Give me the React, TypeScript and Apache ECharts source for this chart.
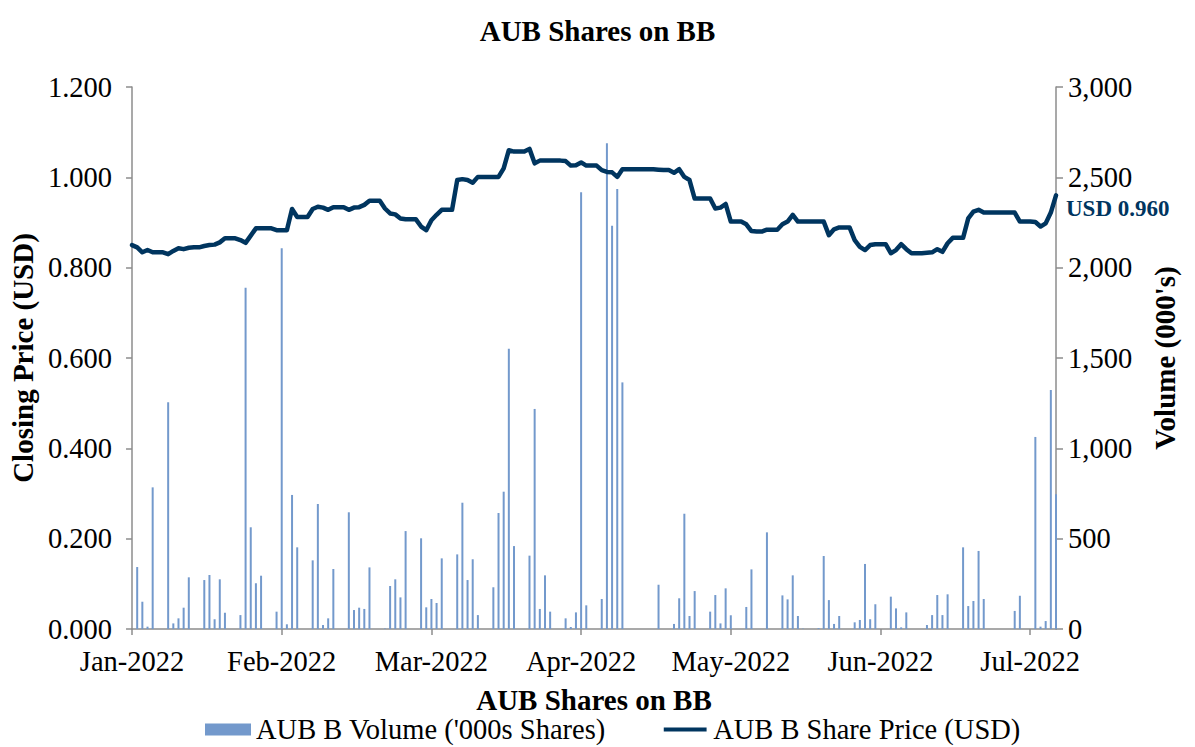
import React, { useEffect, useRef } from "react";
import * as echarts from "echarts";

// Tick labels shown every LABEL_STEP day-slots along the x axis
const TICK_LABELS = ["Jan-2022", "Feb-2022", "Mar-2022", "Apr-2022", "May-2022", "Jun-2022", "Jul-2022"];
const LABEL_STEP = 29;

// Daily volume ('000s shares), one value per day slot (weekends = 0)
const VOLUME = [
  0, 343, 151, 13, 784, 0, 0,
  1255, 31, 59, 118, 286, 0, 0,
  271, 299, 54, 275, 90, 0, 0,
  77, 1889, 563, 253, 295, 0, 0,
  96, 2107, 26, 742, 452, 0, 0,
  380, 692, 22, 59, 332, 0, 0,
  646, 105, 118, 111, 341, 0, 0,
  3, 238, 275, 175, 542, 0, 0,
  502, 120, 166, 144, 391, 0, 0,
  413, 699, 271, 386, 77, 0, 0,
  231, 642, 760, 1551, 459, 0, 0,
  406, 1218, 111, 297, 96, 0, 0,
  59, 11, 92, 2417, 131, 0, 0,
  166, 2688, 2232, 2435, 1365, 0, 0,
  0, 0, 0, 0, 245, 0, 0,
  28, 170, 638, 72, 210, 0, 0,
  96, 188, 31, 225, 76, 0, 0,
  122, 330, 0, 0, 535, 0, 0,
  186, 164, 297, 72, 2, 0, 0,
  5, 404, 160, 28, 72, 0, 0,
  37, 50, 360, 54, 137, 0, 0,
  179, 114, 9, 92, 0, 0, 0,
  22, 77, 188, 77, 192, 0, 0,
  452, 127, 155, 432, 166, 0, 0,
  0, 0, 0, 100, 184, 0, 0,
  1063, 13, 44, 1323, 746,
];

// Closing price (USD), one value per day slot
const PRICE = [
  0.850, 0.845, 0.834, 0.839, 0.834, 0.834, 0.834,
  0.830, 0.837, 0.843, 0.841, 0.844, 0.845, 0.845,
  0.848, 0.850, 0.851, 0.856, 0.865, 0.865, 0.865,
  0.861, 0.855, 0.871, 0.887, 0.887, 0.887, 0.887,
  0.883, 0.883, 0.883, 0.930, 0.912, 0.912, 0.912,
  0.930, 0.935, 0.933, 0.928, 0.934, 0.934, 0.934,
  0.928, 0.933, 0.934, 0.939, 0.948, 0.948, 0.948,
  0.931, 0.920, 0.918, 0.909, 0.907, 0.907, 0.907,
  0.891, 0.883, 0.905, 0.917, 0.928, 0.928, 0.928,
  0.994, 0.996, 0.994, 0.988, 1.001, 1.001, 1.001,
  1.001, 1.001, 1.020, 1.060, 1.057, 1.057, 1.057,
  1.063, 1.031, 1.037, 1.037, 1.037, 1.037, 1.037,
  1.036, 1.026, 1.027, 1.033, 1.026, 1.026, 1.026,
  1.016, 1.012, 1.011, 1.001, 1.018, 1.018, 1.018,
  1.018, 1.018, 1.018, 1.018, 1.017, 1.016, 1.016,
  1.010, 1.018, 1.001, 0.994, 0.953, 0.953, 0.953,
  0.953, 0.931, 0.933, 0.941, 0.902, 0.902, 0.902,
  0.896, 0.881, 0.880, 0.880, 0.884, 0.884, 0.884,
  0.896, 0.902, 0.917, 0.902, 0.902, 0.902, 0.902,
  0.902, 0.902, 0.872, 0.885, 0.889, 0.889, 0.889,
  0.861, 0.846, 0.839, 0.850, 0.852, 0.852, 0.852,
  0.832, 0.839, 0.852, 0.841, 0.832, 0.832, 0.832,
  0.833, 0.834, 0.841, 0.835, 0.854, 0.866, 0.866,
  0.866, 0.909, 0.924, 0.928, 0.922, 0.922, 0.922,
  0.922, 0.922, 0.922, 0.922, 0.902, 0.902, 0.902,
  0.901, 0.891, 0.898, 0.922, 0.960,
];

const SLOTS = PRICE.map((_, i) => String(i));

const FONT = '"Liberation Serif", "Times New Roman", serif';
const NAVY = "#00355f";
const BAR = "#7399cc";
const AXIS = "#8c8c8c";
const FS = 28.5;
const FSB = 29;
const LINE_ICON = "path://M0,0h1v0.01h-1z M0,4.6h50v4.8h-50z M0,14h1v0.01h-1z";

export default function App() {
  const ref = useRef<HTMLDivElement>(null);
  useEffect(() => {
    if (!ref.current) return;
    const chart = echarts.init(ref.current, null, { renderer: "svg" });
    const showTick = (i: number) => i % LABEL_STEP === 0;
    chart.setOption({
      animation: false,
      textStyle: { fontFamily: FONT, color: "#000" },
      title: {
        text: "AUB Shares on BB",
        left: "center",
        top: 11,
        textStyle: { fontFamily: FONT, fontSize: FSB, fontWeight: "bold", color: "#000" },
      },
      grid: { left: 132, right: 139, top: 87, bottom: 118 },
      legend: {
        top: 710,
        left: 200,
        itemWidth: 46,
        itemHeight: 12,
        itemGap: 58,
        textStyle: { fontFamily: FONT, fontSize: FS, color: "#000" },
        data: [
          { name: "AUB B Volume ('000s Shares)", icon: "rect" },
          { name: "AUB B Share Price (USD)", icon: LINE_ICON, itemStyle: { color: NAVY, borderWidth: 0 } },
        ],
      },
      xAxis: {
        type: "category",
        data: SLOTS,
        boundaryGap: false,
        axisLine: { lineStyle: { color: AXIS, width: 1.5 } },
        axisTick: { interval: (i: number) => showTick(i), length: 6, lineStyle: { color: AXIS, width: 1.5 } },
        axisLabel: {
          interval: (i: number) => showTick(i),
          formatter: (_v: string, i: number) => TICK_LABELS[Math.round(i / LABEL_STEP)] ?? "",
          fontFamily: FONT,
          fontSize: FS,
          color: "#000",
          margin: 18,
        },
        splitLine: { show: false },
        name: "AUB Shares on BB",
        nameLocation: "middle",
        nameGap: 56,
        nameTextStyle: { fontFamily: FONT, fontSize: FSB, fontWeight: "bold", color: "#000" },
      },
      yAxis: [
        {
          type: "value",
          min: 0,
          max: 1.2,
          interval: 0.2,
          position: "left",
          axisLine: { show: true, lineStyle: { color: AXIS, width: 1.5 } },
          axisTick: { show: true, length: 6, lineStyle: { color: AXIS, width: 1.5 } },
          axisLabel: {
            formatter: (v: number) => v.toFixed(3),
            fontFamily: FONT,
            fontSize: FS,
            color: "#000",
            margin: 20,
          },
          splitLine: { show: false },
          name: "Closing Price (USD)",
          nameLocation: "middle",
          nameRotate: 90,
          nameGap: 92,
          nameTextStyle: { fontFamily: FONT, fontSize: FSB, fontWeight: "bold", color: "#000" },
        },
        {
          type: "value",
          min: 0,
          max: 3000,
          interval: 500,
          position: "right",
          axisLine: { show: true, lineStyle: { color: AXIS, width: 1.5 } },
          axisTick: { show: true, length: 7, lineStyle: { color: AXIS, width: 1.5 } },
          axisLabel: {
            formatter: (v: number) => v.toLocaleString("en-US"),
            fontFamily: FONT,
            fontSize: FS,
            color: "#000",
            margin: 12,
          },
          splitLine: { show: false },
          name: "Volume (000's)",
          nameLocation: "middle",
          nameRotate: 90,
          nameGap: 94,
          nameTextStyle: { fontFamily: FONT, fontSize: FSB, fontWeight: "bold", color: "#000" },
        },
      ],
      series: [
        {
          name: "AUB B Volume ('000s Shares)",
          type: "bar",
          yAxisIndex: 1,
          data: VOLUME,
          barWidth: 2,
          itemStyle: { color: BAR },
        },
        {
          name: "AUB B Share Price (USD)",
          type: "line",
          yAxisIndex: 0,
          data: PRICE,
          symbol: "none",
          lineStyle: { color: NAVY, width: 4.5, join: "round", cap: "round" },
          itemStyle: { color: NAVY },
          endLabel: {
            show: true,
            formatter: (p: any) => "USD " + Number(p.value).toFixed(3),
            color: NAVY,
            fontFamily: FONT,
            fontWeight: "bold",
            fontSize: 23,
            distance: 10,
            offset: [0, 13],
          },
        },
      ],
    });
    return () => chart.dispose();
  }, []);
  return <div ref={ref} style={{ width: 1195, height: 747, position: "absolute", left: 0, top: 0 }} />;
}
